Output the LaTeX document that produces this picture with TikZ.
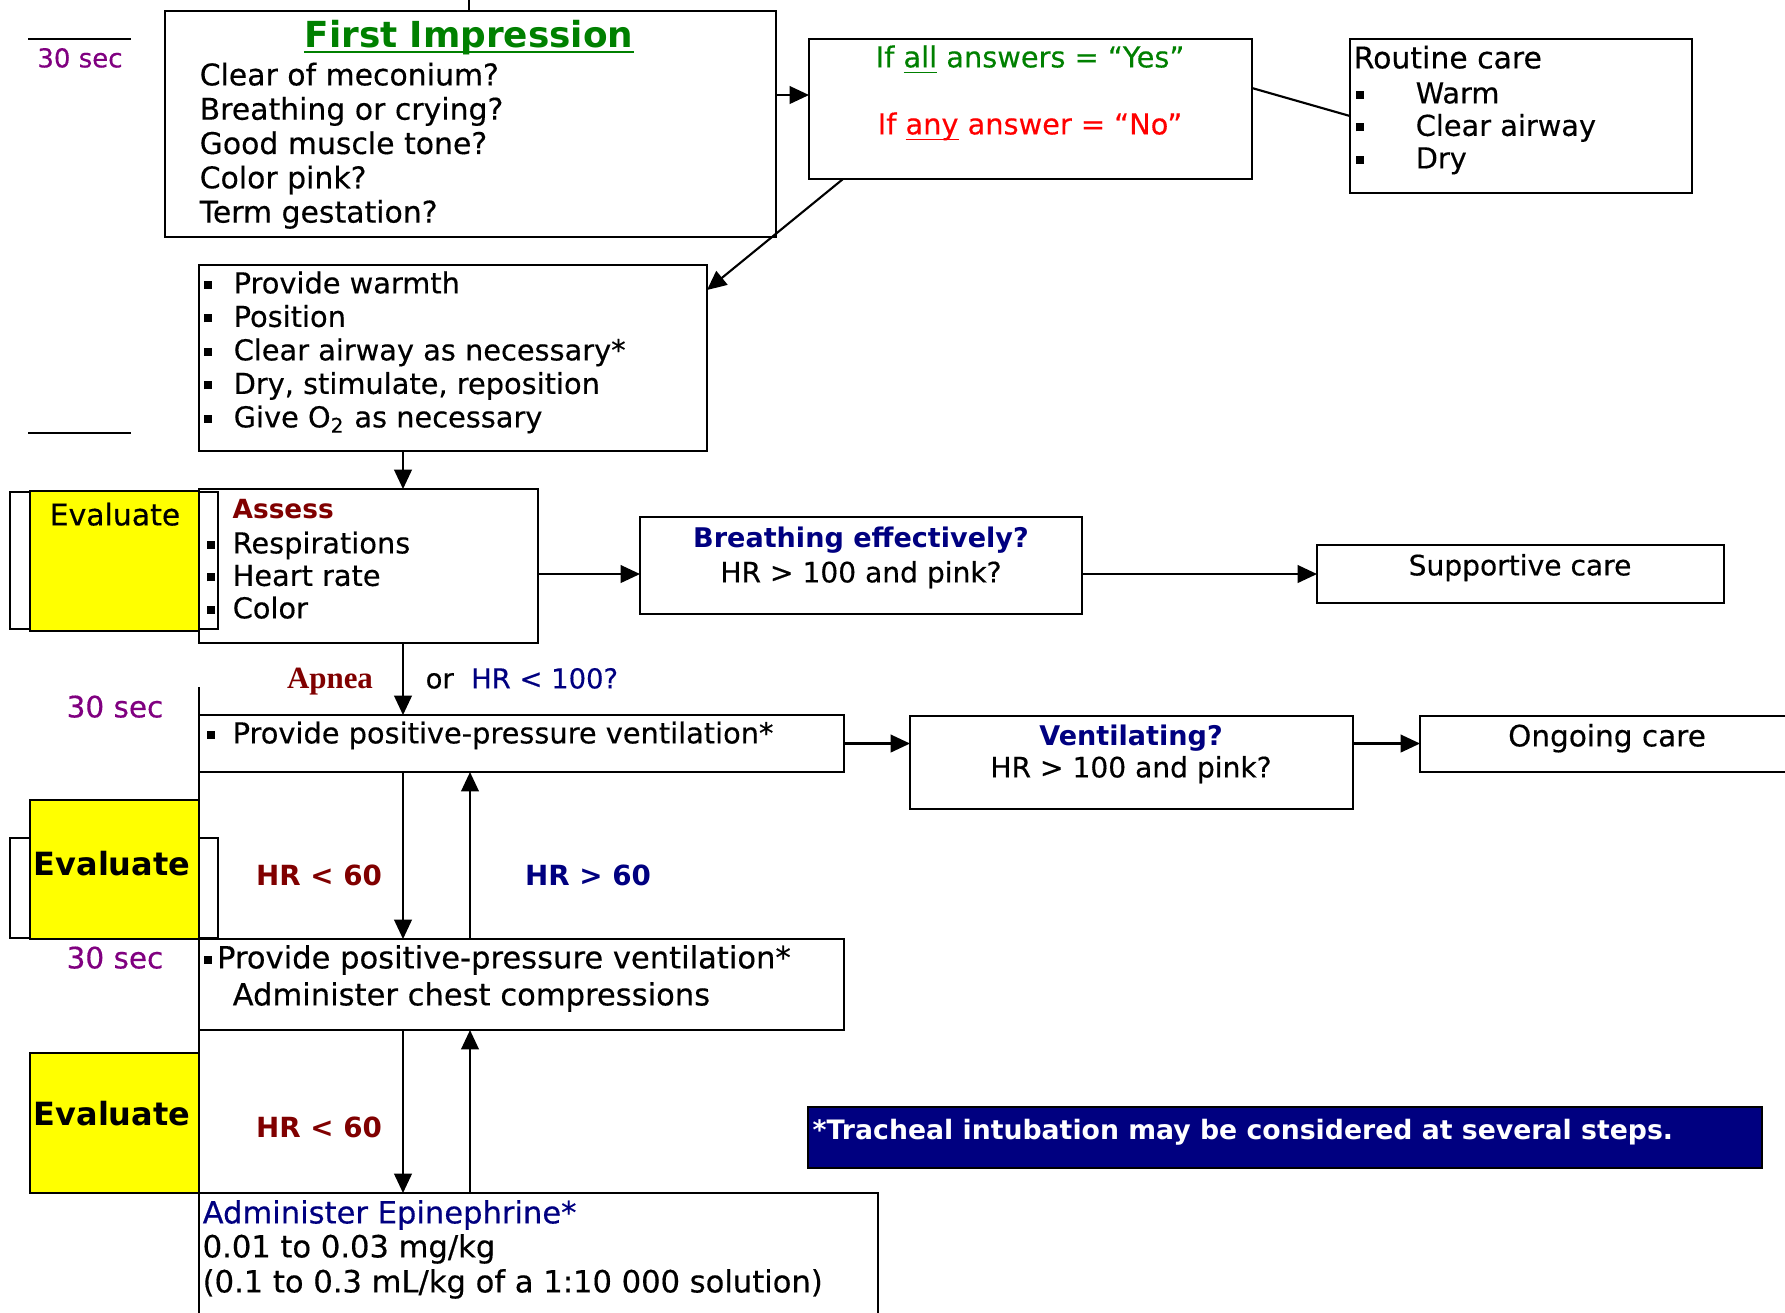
\documentclass[tikz,border=0pt]{standalone}
\usepackage{fontspec}
\setmainfont{DejaVu Sans}[UprightFeatures={FakeBold=0.4}]
\newfontfamily\apneafont{Liberation Serif}
\usepackage{tikz}
\usetikzlibrary{arrows.meta, positioning, calc}
\usepackage{xcolor}

\definecolor{secpurple}{RGB}{128,0,128}
\definecolor{okgreen}{RGB}{0,128,0}
\definecolor{nored}{RGB}{255,0,0}
\definecolor{darkred}{RGB}{128,0,0}
\definecolor{navyblue}{RGB}{0,0,128}
\definecolor{evalyellow}{RGB}{255,255,0}

\newcommand{\sq}{\rule[1.3pt]{2.3pt}{2.3pt}}
\newcommand{\undl}[1]{\underline{\smash{#1}}}

\begin{document}
\begin{tikzpicture}[
    box/.style={draw, line width=0.6pt, rectangle, anchor=north west, inner sep=0pt, outer sep=0pt},
    evalbox/.style={box, fill=evalyellow},
    framebox/.style={box, line width=0.5pt},
    txt/.style={inner sep=0pt, anchor=west, text height=5.9pt, text depth=0pt, font=\fontsize{8.2}{9.6}\selectfont},
    lbl/.style={txt, anchor=center},
    big/.style={font=\fontsize{8.7}{10}\selectfont},
    navyhead/.style={lbl, text=navyblue, font=\fontsize{7.7}{9}\selectfont\bfseries},
    hrlbl/.style={lbl, font=\fontsize{7.9}{9}\selectfont\bfseries},
    sec/.style={lbl, text=secpurple},
    evtxt/.style={lbl, font=\fontsize{9.1}{10}\selectfont\bfseries},
    arrow/.style={draw, line width=0.6pt, -{Triangle[length=5.5pt, width=5pt]}},
    link/.style={draw, line width=0.6pt}
]
\useasboundingbox (0,0) rectangle (17.85,-13.12);

% boxes
\node[box, minimum width=6.11cm, minimum height=2.26cm] (fi) at (1.65,-0.11) {};
\node[box, minimum width=4.43cm, minimum height=1.40cm] (ifb) at (8.09,-0.39) {};
\node[box, minimum width=3.42cm, minimum height=1.54cm] (rc) at (13.50,-0.39) {};
\node[box, minimum width=5.08cm, minimum height=1.86cm] (warm) at (1.99,-2.65) {};
\node[framebox, minimum width=2.08cm, minimum height=1.37cm] (ev1f) at (0.10,-4.92) {};
\node[box, minimum width=3.39cm, minimum height=1.54cm] (assess) at (1.99,-4.89) {};
\node[evalbox, minimum width=1.69cm, minimum height=1.40cm] (ev1) at (0.30,-4.91) {};
\node[box, minimum width=4.42cm, minimum height=0.97cm] (breath) at (6.40,-5.17) {};
\node[box, minimum width=4.07cm, minimum height=0.58cm] (supp) at (13.17,-5.45) {};
\node[box, minimum width=6.45cm, minimum height=0.57cm] (ppv) at (1.99,-7.15) {};
\node[box, minimum width=4.43cm, minimum height=0.93cm] (vent) at (9.10,-7.16) {};
\node[box, minimum width=4.50cm, minimum height=0.56cm] (ongo) at (14.20,-7.16) {};
\node[framebox, minimum width=2.08cm, minimum height=1.00cm] (ev2f) at (0.10,-8.38) {};
\node[evalbox, minimum width=1.69cm, minimum height=1.39cm] (ev2) at (0.30,-8.00) {};
\node[box, minimum width=6.45cm, minimum height=0.91cm] (cc) at (1.99,-9.39) {};
\node[evalbox, minimum width=1.69cm, minimum height=1.40cm] (ev3) at (0.30,-10.53) {};
\node[box, minimum width=6.79cm, minimum height=2.00cm] (epi) at (1.99,-11.93) {};
\node[box, fill=navyblue, minimum width=9.54cm, minimum height=0.61cm] (note) at (8.08,-11.07) {};

% time marks
\coordinate (t1a) at (0.28,-0.39);
\coordinate (t1b) at (1.31,-0.39);
\coordinate (t2a) at (0.28,-4.33);
\coordinate (t2b) at (1.31,-4.33);
\coordinate (t3) at (1.99,-6.87);
\draw[link] (t1a) -- (t1b);
\draw[link] (t2a) -- (t2b);
\draw[link] (t3) -- (ppv.north west);
\draw[link] (ppv.south west) -- (ev2.north east);
\draw[link] (cc.south west) -- (ev3.north east);

% texts
\node[sec, font=\fontsize{7.4}{9}\selectfont] (sec1) at (0.80,-0.57) {30 sec};
\node[sec, font=\fontsize{8.4}{10}\selectfont] (sec2) at (1.15,-7.07) {30 sec};
\node[sec, font=\fontsize{8.4}{10}\selectfont] (sec3) at (1.15,-9.58) {30 sec};

\node[lbl, font=\fontsize{10.2}{12}\selectfont\bfseries, text=okgreen] (fi-title) at (4.69,-0.37) {First Impression};
\draw[okgreen, line width=0.7pt] ([yshift=-1.3pt]fi-title.base west) -- ([yshift=-1.3pt]fi-title.base east);
\foreach \q [count=\i] in {Clear of meconium?, Breathing or crying?, Good muscle tone?, Color pink?, Term gestation?}
  \node[txt, font=\fontsize{8.5}{10}\selectfont] (fi-\i) at (1.99,{-0.75-0.343*(\i-1)}) {\q};

\node[lbl, text=okgreen] (ifb-yes) at (10.30,-0.57) {If \undl{all} answers = “Yes”};
\node[lbl, text=nored] (ifb-no) at (10.30,-1.24) {If \undl{any} answer = “No”};

\node[txt, font=\fontsize{8.5}{10}\selectfont] (rc-t) at (13.53,-0.58) {Routine care};
\foreach \q [count=\i] in {Warm, Clear airway, Dry}
  \node[txt] (rc-\i) at (13.55,{-0.93-0.325*(\i-1)}) {\makebox[0.6cm][l]{\sq}\q};

\foreach \q [count=\i] in {Provide warmth, Position, Clear airway as necessary*, {Dry, stimulate, reposition}, Give O\textsubscript{2} as necessary}
  \node[txt] (warm-\i) at (2.03,{-2.83-0.335*(\i-1)}) {\makebox[0.30cm][l]{\sq}\q};

\node[txt, font=\fontsize{7.5}{9}\selectfont\bfseries, text=darkred] (as-t) at (2.32,-5.08) {Assess};
\foreach \q [count=\i] in {Respirations, Heart rate, Color}
  \node[txt] (as-\i) at (2.06,{-5.43-0.325*(\i-1)}) {\makebox[0.26cm][l]{\sq}\q};

\node[lbl, font=\fontsize{8.5}{10}\selectfont] (ev1-t) at (1.15,-5.15) {Evaluate};
\node[evtxt] (ev2-t) at (1.12,-8.65) {Evaluate};
\node[evtxt] (ev3-t) at (1.12,-11.15) {Evaluate};

\node[navyhead] (br-1) at (8.61,-5.37) {Breathing effectively?};
\node[lbl, font=\fontsize{8}{9}\selectfont] (br-2) at (8.61,-5.72) {HR > 100 and pink?};
\node[lbl, font=\fontsize{8}{9}\selectfont] (supp-t) at (15.20,-5.65) {Supportive care};

\node[lbl, font=\apneafont\bfseries\fontsize{8.8}{10}\selectfont, text=darkred] (apnea) at (3.30,-6.78) {Apnea};
\node[txt, font=\fontsize{7.8}{9}\selectfont] (hr100) at (4.25,-6.78) {or\ \ \textcolor{navyblue}{HR < 100?}};

\node[txt] (ppv-1) at (2.06,-7.33) {\makebox[0.26cm][l]{\sq}Provide positive-pressure ventilation*};
\node[navyhead] (vent-1) at (11.31,-7.35) {Ventilating?};
\node[lbl, font=\fontsize{8}{9}\selectfont] (vent-2) at (11.31,-7.67) {HR > 100 and pink?};
\node[lbl, font=\fontsize{8.4}{10}\selectfont] (ongo-t) at (16.07,-7.36) {Ongoing care};

\node[hrlbl, text=darkred] (hrlow1) at (3.19,-8.75) {HR < 60};
\node[hrlbl, text=navyblue] (hrhigh) at (5.88,-8.75) {HR > 60};
\node[hrlbl, text=darkred] (hrlow2) at (3.19,-11.27) {HR < 60};

\node[txt, big] (cc-1) at (2.03,-9.58) {\sq\hspace{1.5pt}Provide positive-pressure ventilation*};
\node[txt, big] (cc-2) at (2.32,-9.95) {Administer chest compressions};

\node[txt, big, text=navyblue] (epi-1) at (2.02,-12.13) {Administer Epinephrine*};
\node[txt, big] (epi-2) at (2.02,-12.47) {0.01 to 0.03 mg/kg};
\node[txt, big] (epi-3) at (2.02,-12.82) {(0.1 to 0.3 mL/kg of a 1:10 000 solution)};

\node[txt, font=\fontsize{7.6}{9}\selectfont\bfseries, text=white] (note-t) at (8.12,-11.29) {*Tracheal intubation may be considered at several steps.};

% connectors
\coordinate (top) at (4.69,0);
\coordinate (ax) at (4.03,0);
\coordinate (bx) at (4.70,0);
\coordinate (ry1) at (0,-0.95);
\coordinate (ry2) at (0,-0.88);
\coordinate (ry3) at (0,-1.16);
\coordinate (ry4) at (0,-2.90);
\coordinate (ry5) at (0,-5.74);
\draw[link] (top) -- (top |- fi.north);
\draw[arrow] (fi.east |- ry1) -- (ifb.west |- ry1);
\draw[link] (ifb.east |- ry2) -- (rc.west |- ry3);
\draw[arrow] ($(ifb.south west)+(0.34,0)$) -- (warm.east |- ry4);
\draw[arrow] (warm.south -| ax) -- (assess.north -| ax);
\draw[arrow] (assess.east |- ry5) -- (breath.west |- ry5);
\draw[arrow] (breath.east |- supp.west) -- (supp.west);
\draw[arrow] (assess.south -| ax) -- (ppv.north -| ax);
\draw[arrow] (ppv.east) -- (ppv.east -| vent.west);
\draw[arrow] (vent.east |- ppv.east) -- (ongo.west |- ppv.east);
\draw[arrow] (ppv.south -| ax) -- (cc.north -| ax);
\draw[arrow] (cc.north -| bx) -- (ppv.south -| bx);
\draw[arrow] (cc.south -| ax) -- (epi.north -| ax);
\draw[arrow] (epi.north -| bx) -- (cc.south -| bx);

\end{tikzpicture}
\end{document}
